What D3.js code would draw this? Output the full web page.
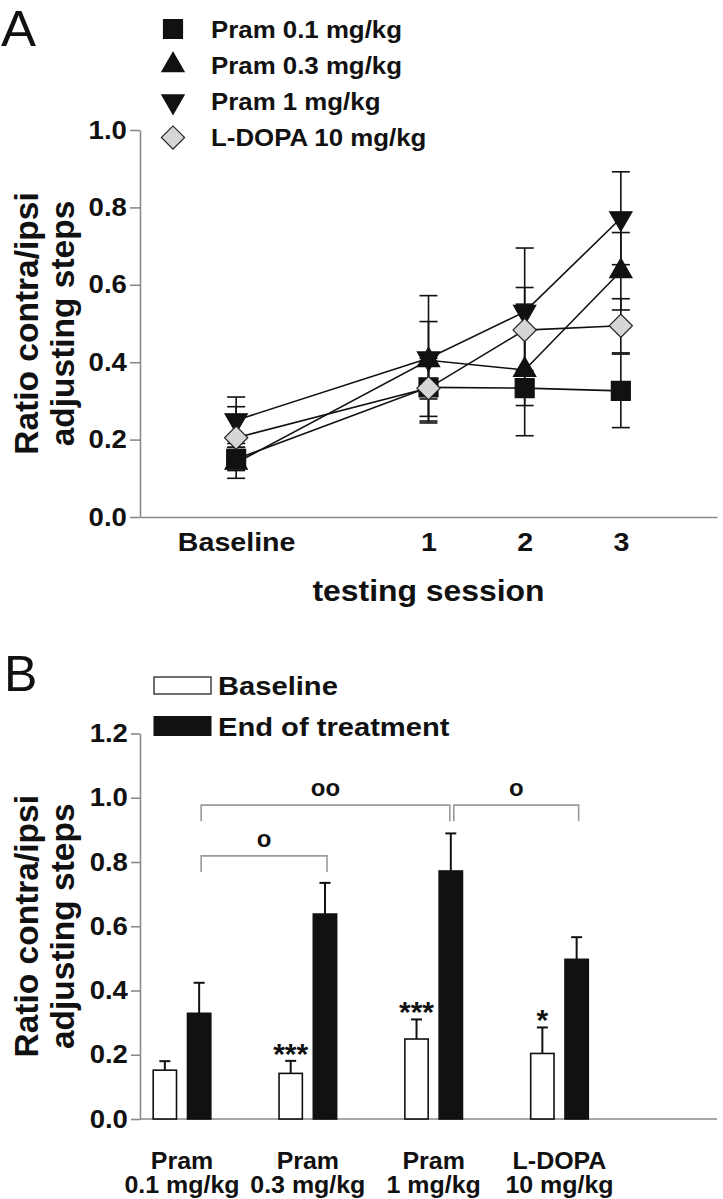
<!DOCTYPE html>
<html><head><meta charset="utf-8">
<script src="https://cdn.jsdelivr.net/npm/d3@7"></script>
<style>
html,body{margin:0;padding:0;background:#fff;}
svg{display:block;font-family:"Liberation Sans",Arial,Helvetica,sans-serif;}
</style></head>
<body>
<svg id="chart" width="723" height="1199"></svg>
<script>
// ---------- DATA ----------
// Panel A
const sessions = ["Baseline", "1", "2", "3"];
const sessionX = [0, 2, 3, 4];
const seriesNames = ["Pram 0.1 mg/kg", "Pram 0.3 mg/kg", "Pram 1 mg/kg", "L-DOPA 10 mg/kg"];
const pram01Mean = [0.150, 0.335, 0.333, 0.326];
const pram01Err  = [0.030, 0.075, 0.045, 0.095];
const pram03Mean = [0.140, 0.405, 0.380, 0.635];
const pram03Err  = [0.040, 0.100, 0.170, 0.100];
const pram1Mean  = [0.250, 0.410, 0.530, 0.772];
const pram1Err   = [0.060, 0.162, 0.165, 0.120];
const ldopaMean  = [0.205, 0.333, 0.483, 0.494];
const ldopaErr   = [0.080, 0.090, 0.110, 0.070];
const yTicksA = [0, 0.2, 0.4, 0.6, 0.8, 1.0];

// Panel B
const groupLine1 = ["Pram", "Pram", "Pram", "L-DOPA"];
const groupLine2 = ["0.1 mg/kg", "0.3 mg/kg", "1 mg/kg", "10 mg/kg"];
const barKeys = ["Baseline", "End of treatment"];
const baselineMean = [0.152, 0.142, 0.249, 0.204];
const baselineErr  = [0.028, 0.039, 0.061, 0.081];
const endMean = [0.329, 0.638, 0.772, 0.497];
const endErr  = [0.095, 0.097, 0.117, 0.069];
const baselineStars = ["", "***", "***", "*"];
const brackets = [
  {from: 0, to: 2, level: 0.977, label: "oo"},
  {from: 2, to: 3, level: 0.977, label: "o"},
  {from: 0, to: 1, level: 0.819, label: "o"}
];
const yTicksB = [0, 0.2, 0.4, 0.6, 0.8, 1.0, 1.2];

// ---------- STYLE ----------
const SX = 1.1;
const INK = "#111";
const AXIS = "#8a8a8a";
const markerStyles = [
  {sym: d3.symbolSquare, size: 360, rot: 0, fill: INK, stroke: INK},
  {sym: d3.symbolTriangle, size: 215, rot: 0, fill: INK, stroke: INK},
  {sym: d3.symbolTriangle, size: 215, rot: 180, fill: INK, stroke: INK},
  {sym: d3.symbolSquare, size: 270, rot: 45, fill: "#d6d6d6", stroke: "#222"}
];

const svg = d3.select("#chart");

function htext(g, x, y, s, o) {
  o = o || {};
  return g.append("text")
    .attr("transform", `translate(${x},${y}) scale(${o.sx == null ? SX : o.sx},1)`)
    .attr("font-size", o.size || 21)
    .attr("font-weight", o.weight || "bold")
    .attr("text-anchor", o.anchor || "start")
    .attr("fill", o.fill || INK)
    .text(s);
}
function styleAxis(g, size) {
  g.attr("font-size", size);
  g.selectAll("path,line").attr("stroke", AXIS).attr("stroke-width", 1.6);
  g.selectAll("text")
    .attr("font-size", size).attr("font-weight", "bold").attr("fill", INK)
    .attr("font-family", "Liberation Sans, Arial, sans-serif");
}

// =============== PANEL A ===============
const gA = svg.append("g");
const xA = d3.scaleLinear().domain([-1, 5]).range([140, 717]);
const yA = d3.scaleLinear().domain([0, 1]).range([517, 130]);

htext(gA, 1, 46, "A", {size: 50, weight: "normal", sx: 1.05});

const ayA = gA.append("g").attr("transform", `translate(${xA(-1)},0)`)
  .call(d3.axisLeft(yA).tickValues(yTicksA).tickFormat(d3.format(".1f")).tickSize(10).tickSizeOuter(0).tickPadding(2));
styleAxis(ayA, 25);
ayA.selectAll("text").attr("transform", `scale(${SX},1)`);

const axA = gA.append("g").attr("transform", `translate(0,${yA(0)})`)
  .call(d3.axisBottom(xA).tickValues(sessionX).tickFormat((d, i) => sessions[i]).tickSize(0).tickSizeOuter(0).tickPadding(16));
styleAxis(axA, 26);
axA.selectAll(".tick text").attr("transform", `scale(${SX},1)`).attr("text-anchor", "middle");

htext(gA, xA(2), 601, "testing session", {size: 29, anchor: "middle"});

function yTitle(g, cy) {
  g.append("text").attr("transform", `translate(38,${cy}) rotate(-90)`)
    .attr("font-size", 33.5).attr("font-weight", "bold").attr("text-anchor", "middle").attr("fill", INK)
    .text("Ratio contra/ipsi");
  g.append("text").attr("transform", `translate(74,${cy}) rotate(-90)`)
    .attr("font-size", 33.5).attr("font-weight", "bold").attr("text-anchor", "middle").attr("fill", INK)
    .text("adjusting steps");
}
yTitle(gA, (yA(0) + yA(1)) / 2);

const seriesA = [
  {mean: pram01Mean, err: pram01Err},
  {mean: pram03Mean, err: pram03Err},
  {mean: pram1Mean, err: pram1Err},
  {mean: ldopaMean, err: ldopaErr}
];
const line = d3.line().x(d => xA(d.x)).y(d => yA(d.m));
seriesA.forEach(s => {
  const pts = s.mean.map((m, i) => ({x: sessionX[i], m}));
  gA.append("path").datum(pts).attr("d", line).attr("fill", "none").attr("stroke", INK).attr("stroke-width", 1.6);
});
seriesA.forEach(s => {
  s.mean.forEach((m, i) => {
    const x = xA(sessionX[i]), y1 = yA(m - s.err[i]), y2 = yA(m + s.err[i]);
    const g = gA.append("g").attr("stroke", INK).attr("stroke-width", 1.6);
    g.append("line").attr("x1", x).attr("x2", x).attr("y1", y1).attr("y2", y2);
    g.append("line").attr("x1", x - 9).attr("x2", x + 9).attr("y1", y1).attr("y2", y1);
    g.append("line").attr("x1", x - 9).attr("x2", x + 9).attr("y1", y2).attr("y2", y2);
  });
});
function marker(g, st, x, y) {
  g.append("path")
    .attr("d", d3.symbol().type(st.sym).size(st.size)())
    .attr("transform", `translate(${x},${y}) rotate(${st.rot})`)
    .attr("fill", st.fill).attr("stroke", st.stroke).attr("stroke-width", 1.2);
}
seriesA.forEach((s, k) => {
  s.mean.forEach((m, i) => marker(gA, markerStyles[k], xA(sessionX[i]), yA(m)));
});
seriesNames.forEach((name, k) => {
  const cy = 29 + k * 36.2;
  marker(gA, markerStyles[k], 173, cy);
  htext(gA, 211, cy + 8.5, name, {size: 23.5});
});

// =============== PANEL B ===============
const gB = svg.append("g");
const groups = groupLine2.map((d, i) => i);
const xB = d3.scalePoint().domain(groups).range([182, 559.5]);
const x1 = d3.scaleBand().domain(barKeys).range([-28.8, 28.8]).paddingInner(0.32);
const yB = d3.scaleLinear().domain([0, 1.2]).range([1119, 733.5]);

htext(gB, 4, 691, "B", {size: 50, weight: "normal", sx: 1});

const ayB = gB.append("g").attr("transform", `translate(140,0)`)
  .call(d3.axisLeft(yB).tickValues(yTicksB).tickFormat(d3.format(".1f")).tickSize(9).tickSizeOuter(0).tickPadding(2));
styleAxis(ayB, 25);
ayB.selectAll("text").attr("transform", `scale(${SX},1)`);

gB.append("line").attr("x1", 140).attr("x2", 717).attr("y1", yB(0)).attr("y2", yB(0))
  .attr("stroke", AXIS).attr("stroke-width", 1.6);

yTitle(gB, (yB(0) + yB(1.2)) / 2);

groups.forEach(i => {
  htext(gB, xB(i), 1169, groupLine1[i], {size: 24, anchor: "middle", sx: 1.04});
  htext(gB, xB(i), 1193, groupLine2[i], {size: 24, anchor: "middle", sx: 1.04});
});

const barData = [
  {key: barKeys[0], mean: baselineMean, err: baselineErr, fill: "#fff"},
  {key: barKeys[1], mean: endMean, err: endErr, fill: INK}
];
barData.forEach(b => {
  b.mean.forEach((v, i) => {
    const x0 = xB(i) + x1(b.key), w = x1.bandwidth(), cx = x0 + w / 2;
    const top = yB(v + b.err[i]);
    gB.append("line").attr("x1", cx).attr("x2", cx).attr("y1", yB(v)).attr("y2", top).attr("stroke", INK).attr("stroke-width", 2);
    gB.append("line").attr("x1", cx - 5.5).attr("x2", cx + 5.5).attr("y1", top).attr("y2", top).attr("stroke", INK).attr("stroke-width", 2);
    gB.append("rect").attr("x", x0).attr("y", yB(v)).attr("width", w).attr("height", yB(0) - yB(v))
      .attr("fill", b.fill).attr("stroke", INK).attr("stroke-width", 1.6);
  });
});
baselineStars.forEach((s, i) => {
  if (!s) return;
  const cx = xB(i) + x1(barKeys[0]) + x1.bandwidth() / 2;
  htext(gB, cx, yB(baselineMean[i] + baselineErr[i]) + 3, s, {size: 30, anchor: "middle", sx: 1.0});
});
const endCx = i => xB(i) + x1(barKeys[1]) + x1.bandwidth() / 2;
brackets.forEach(b => {
  const xa = endCx(b.from) + 2, xb = endCx(b.to) + (b.to === 2 ? -1 : 2);
  const xs = b.from === 2 ? xa + 1 : xa;
  const y = yB(b.level), yd = yB(b.level - 0.05);
  gB.append("path").attr("d", `M${xs},${yd}V${y}H${xb}V${yd}`)
    .attr("fill", "none").attr("stroke", "#9a9a9a").attr("stroke-width", 1.6);
  htext(gB, (xs + xb) / 2, y - 9, b.label, {size: 24, anchor: "middle", sx: 1.0});
});
gB.append("rect").attr("x", 154).attr("y", 677).attr("width", 57).attr("height", 17)
  .attr("fill", "#fff").attr("stroke", "#333").attr("stroke-width", 1.4);
gB.append("rect").attr("x", 154).attr("y", 716.5).attr("width", 57).attr("height", 19)
  .attr("fill", INK).attr("stroke", INK).attr("stroke-width", 1);
htext(gB, 218, 695, barKeys[0], {size: 26.5});
htext(gB, 218, 736, barKeys[1], {size: 26.5});
</script>
</body></html>
